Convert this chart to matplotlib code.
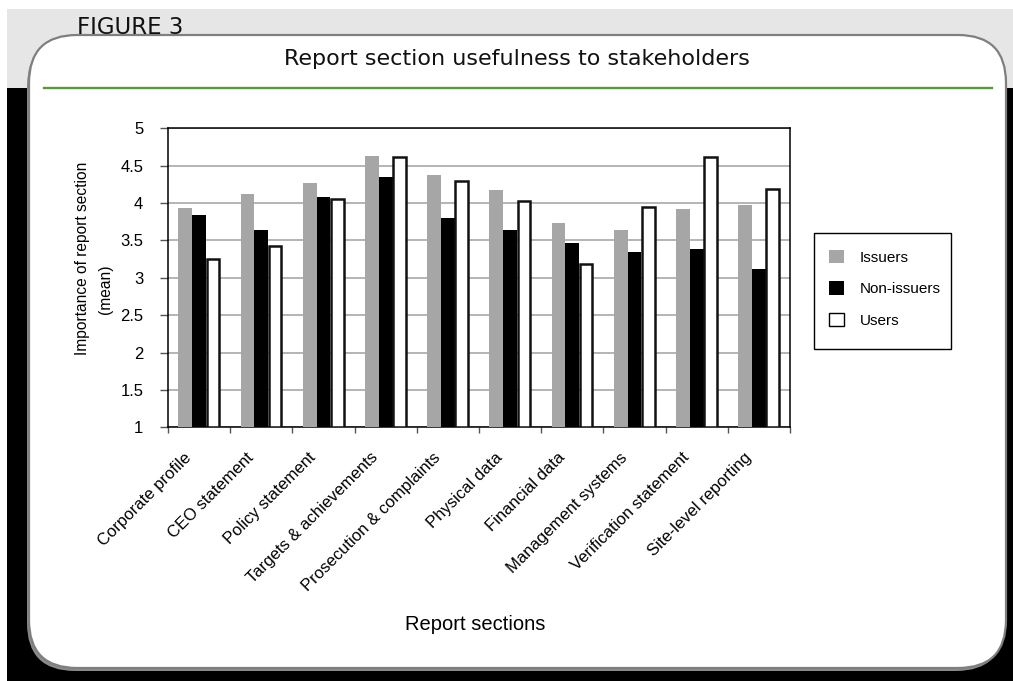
import numpy as np
import matplotlib
matplotlib.use("Agg")
import matplotlib.pyplot as plt
from matplotlib.patches import FancyBboxPatch, Rectangle, Patch
from matplotlib.transforms import IdentityTransform, ScaledTranslation
from matplotlib.lines import Line2D

# ---- data -------------------------------------------------------------
sections = [
    "Corporate profile", "CEO statement", "Policy statement",
    "Targets & achievements", "Prosecution & complaints", "Physical data",
    "Financial data", "Management systems", "Verification statement",
    "Site-level reporting",
]
issuers = [3.93, 4.12, 4.27, 4.63, 4.38, 4.17, 3.73, 3.64, 3.92, 3.97]
non_issuers = [3.84, 3.64, 4.08, 4.35, 3.80, 3.64, 3.47, 3.35, 3.39, 3.12]
users = [3.25, 3.42, 4.06, 4.61, 4.29, 4.03, 3.19, 3.95, 4.62, 4.19]
y_ticks = [1, 1.5, 2, 2.5, 3, 3.5, 4, 4.5, 5]
y_tick_labels = ["1", "1.5", "2", "2.5", "3", "3.5", "4", "4.5", "5"]

W, H = 1013, 681
DPI = 100
fig = plt.figure(figsize=(W / DPI, H / DPI), dpi=DPI, facecolor="white")
px = IdentityTransform()


def top(y):
    """Convert a y pixel measured from the top into display coordinates."""
    return H - y


# ---- page frame -------------------------------------------------------
fig.patches.append(Rectangle((7, 0), W - 7, top(88), transform=px,
                             facecolor="black", edgecolor="none", zorder=0))
fig.patches.append(Rectangle((7, top(88)), W - 7, 88 - 9, transform=px,
                             facecolor="#e6e6e6", edgecolor="none", zorder=0))

# soft shadow and the rounded white panel
px0, px1, py0, py1 = 29, 1006, 35, 668
fig.patches.append(FancyBboxPatch((px0 - 2, top(py1) - 3), px1 - px0, py1 - py0,
                                  boxstyle="round,pad=0,rounding_size=48",
                                  transform=px, facecolor="#8a8a8a",
                                  edgecolor="none", zorder=1))
fig.patches.append(FancyBboxPatch((px0, top(py1)), px1 - px0, py1 - py0,
                                  boxstyle="round,pad=0,rounding_size=48",
                                  transform=px, facecolor="white",
                                  edgecolor="#7f7f7f", linewidth=1.6, zorder=2))

# green rule under the title
fig.lines.append(Line2D([44, 992], [top(87.5), top(87.5)], transform=px,
                        color="#5b9a3c", linewidth=1.7, zorder=3))

fig.text(77, top(34.5), "FIGURE 3", transform=px, fontsize=16.5,
         family="DejaVu Sans", ha="left", va="baseline", color="#111111",
         zorder=4)
fig.text(517, top(65), "Report section usefulness to stakeholders",
         transform=px, fontsize=16, family="DejaVu Sans", ha="center",
         va="baseline", color="#111111", zorder=4)

# ---- chart ------------------------------------------------------------
ax_l, ax_r, ax_t, ax_b = 168, 790, 128.3, 427.3
ax = fig.add_axes([ax_l / W, (H - ax_b) / H, (ax_r - ax_l) / W, (ax_b - ax_t) / H])
ax.set_zorder(5)
ax.patch.set_facecolor("white")

FONT = "Liberation Sans"
ymin = y_ticks[0]
x = np.arange(len(sections))
bw = 0.222

ax.bar(x - bw, np.array(issuers) - ymin, bottom=ymin, width=bw,
       color="#a6a6a6", edgecolor="none", zorder=3)
ax.bar(x, np.array(non_issuers) - ymin, bottom=ymin, width=bw,
       color="black", edgecolor="none", zorder=3)
ax.bar(x + bw, np.array(users) - ymin, bottom=ymin, width=bw * 0.92,
       color="white", edgecolor="#111111", linewidth=1.8, zorder=3)

ax.set_xlim(-0.5, len(sections) - 0.5)
ax.set_ylim(y_ticks[0], y_ticks[-1])
ax.set_yticks(y_ticks)
ax.set_yticklabels(y_tick_labels, fontsize=12, family=FONT)
ax.yaxis.grid(True, color="#a8a8a8", linewidth=1.2, zorder=0)
ax.set_axisbelow(True)

ax.set_xticks(x)
ax.set_xticks(np.arange(-0.5, len(sections)), minor=True)
ax.tick_params(axis="x", which="major", length=0, pad=20)
ax.tick_params(axis="x", which="minor", length=4.5, width=1, color="#555555",
               direction="out")
ax.tick_params(axis="y", length=5.8, width=1, color="#555555", pad=12,
               direction="out")
ax.set_xticklabels(sections, rotation=45, ha="right", va="center",
                   rotation_mode="anchor", fontsize=12, family=FONT)
# nudge the slanted category names a little to the left
shift = ScaledTranslation(-10 / DPI, 0, fig.dpi_scale_trans)
for lbl in ax.get_xticklabels():
    lbl.set_transform(lbl.get_transform() + shift)

for s in ax.spines.values():
    s.set_color("black")
    s.set_linewidth(1.1)

fig.text(82, top(258), "Importance of report section", transform=px,
         rotation=90, fontsize=11.2, family=FONT, ha="center", va="center",
         zorder=6)
fig.text(106, top(289), "(mean)", transform=px, rotation=90, fontsize=11.2,
         family=FONT, ha="center", va="center", zorder=6)
fig.text(475, top(625), "Report sections", transform=px, fontsize=14.5,
         family=FONT, ha="center", va="center", zorder=6)

# legend: frame drawn separately so its padding can be set exactly
fig.patches.append(Rectangle((814, top(349)), 951 - 814, 349 - 233,
                             transform=px, facecolor="white",
                             edgecolor="black", linewidth=1.0, zorder=6))
handles = [
    Patch(facecolor="#a6a6a6", edgecolor="none", label="Issuers"),
    Patch(facecolor="black", edgecolor="none", label="Non-issuers"),
    Patch(facecolor="white", edgecolor="black", linewidth=1, label="Users"),
]
leg = fig.legend(handles=handles, loc="upper left",
                 bbox_to_anchor=(829, top(250)), bbox_transform=px,
                 prop={"family": FONT, "size": 11}, frameon=False,
                 handlelength=0.95, handleheight=0.95,
                 handletextpad=1.05, labelspacing=1.08, borderpad=0,
                 borderaxespad=0)
leg.set_zorder(7)

fig.savefig("out.png", dpi=DPI, facecolor=fig.get_facecolor())
